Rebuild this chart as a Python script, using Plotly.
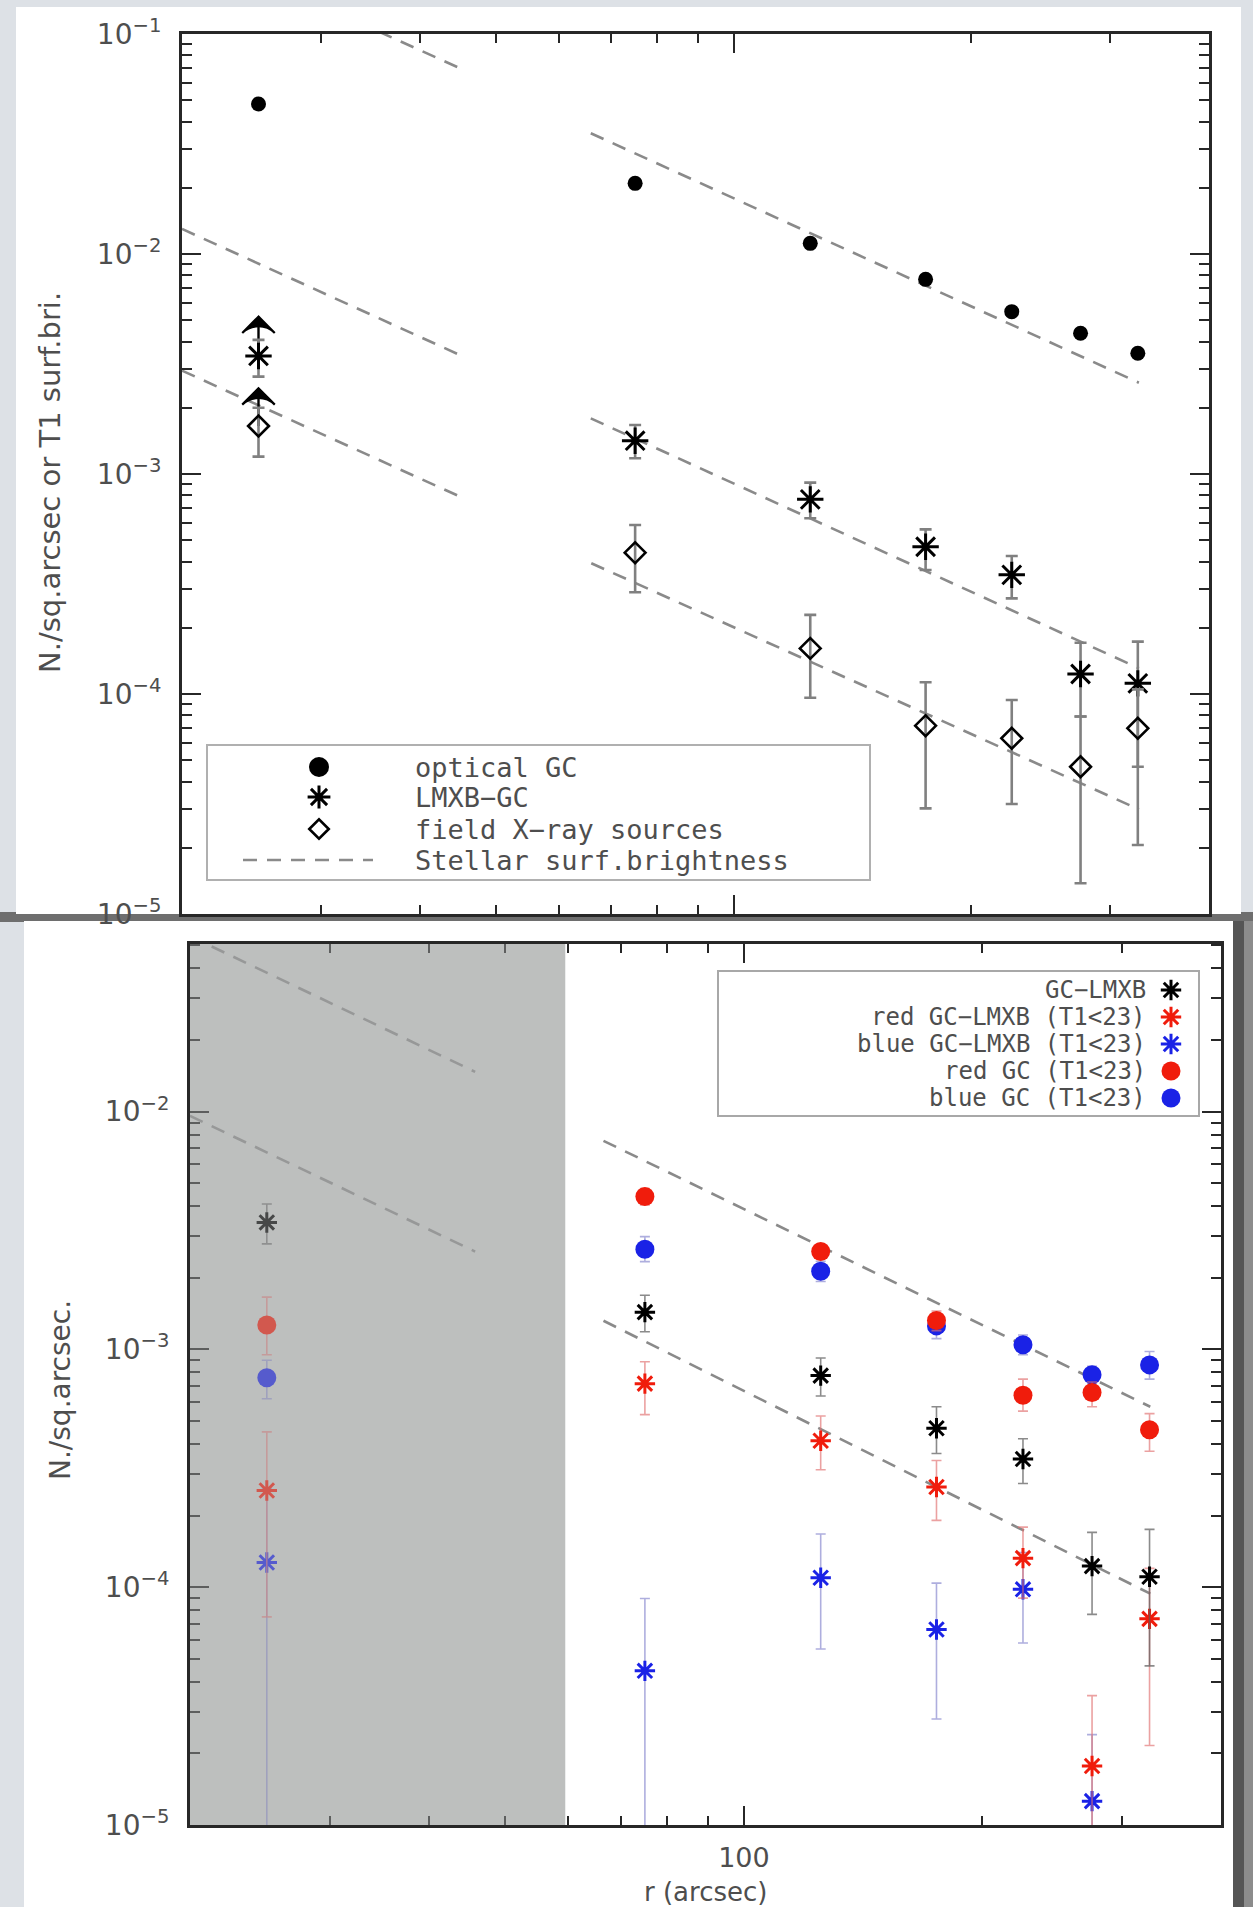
import math
import plotly.graph_objects as go

W, H = 1253, 1907

# ---------------- data ----------------
r_arcsec = [25, 75, 125, 175, 225, 275, 325]

# upper panel
optical_gc = [0.0481, 0.02095, 0.01118, 0.00767, 0.00547, 0.00436, 0.00354]
lmxb_gc = [3.44e-3, 1.417e-3, 7.67e-4, 4.67e-4, 3.48e-4, 1.233e-4, 1.118e-4]
lmxb_gc_hi = [4.07e-3, 1.67e-3, 9.14e-4, 5.60e-4, 4.24e-4, 1.71e-4, 1.73e-4]
lmxb_gc_lo = [2.77e-3, 1.18e-3, 6.29e-4, 3.66e-4, 2.72e-4, 7.9e-5, 4.67e-5]
field_xray = [1.652e-3, 4.39e-4, 1.612e-4, 7.18e-5, 6.29e-5, 4.67e-5, 6.98e-5]
field_xray_hi = [2.0e-3, 5.86e-4, 2.29e-4, 1.13e-4, 9.39e-5, 7.9e-5, 1.05e-4]
field_xray_lo = [1.20e-3, 2.9e-4, 9.62e-5, 3.02e-5, 3.16e-5, 1.38e-5, 2.06e-5]
limit_r = [25, 25]                    # lower limits in the innermost bin
limit_from = [3.44e-3, 1.652e-3]
limit_to = [5.19e-3, 2.45e-3]

sb_top_r = [[20, 45.5], [20, 45.5], [20, 45.5], [65.9, 326], [65.9, 326], [66, 326]]
sb_top_y = [[0.26, 0.0686], [0.0130, 3.41e-3], [2.95e-3, 7.75e-4],
            [0.0354, 2.6e-3], [1.79e-3, 1.31e-4], [3.93e-4, 2.99e-5]]

# lower panel
gc_lmxb = [3.42e-3, 1.435e-3, 7.76e-4, 4.66e-4, 3.46e-4, 1.227e-4, 1.107e-4]
gc_lmxb_hi = [4.09e-3, 1.69e-3, 9.2e-4, 5.74e-4, 4.21e-4, 1.7e-4, 1.75e-4]
gc_lmxb_lo = [2.78e-3, 1.186e-3, 6.37e-4, 3.65e-4, 2.73e-4, 7.69e-5, 4.67e-5]
red_gc_lmxb = [2.55e-4, 7.18e-4, 4.13e-4, 2.64e-4, 1.325e-4, 1.77e-5, 7.36e-5]
red_gc_lmxb_hi = [4.5e-4, 8.87e-4, 5.25e-4, 3.41e-4, 1.79e-4, 3.5e-5, 1.2e-4]
red_gc_lmxb_lo = [7.5e-5, 5.32e-4, 3.12e-4, 1.91e-4, 9.0e-5, 1e-7, 2.16e-5]
blue_gc_lmxb = [1.27e-4, 4.45e-5, 1.096e-4, 6.64e-5, 9.8e-5, 1.26e-5, None]
blue_gc_lmxb_hi = [2.6e-4, 8.97e-5, 1.675e-4, 1.04e-4, 1.4e-4, 2.4e-5, None]
blue_gc_lmxb_lo = [1e-7, 1e-7, 5.5e-5, 2.79e-5, 5.83e-5, 1e-7, None]
red_gc = [1.266e-3, 4.40e-3, 2.58e-3, 1.324e-3, 6.42e-4, 6.59e-4, 4.59e-4]
red_gc_hi = [1.66e-3, 4.75e-3, 2.75e-3, 1.45e-3, 7.5e-4, 7.3e-4, 5.37e-4]
red_gc_lo = [9.5e-4, 4.05e-3, 2.42e-3, 1.2e-3, 5.5e-4, 5.74e-4, 3.73e-4]
blue_gc = [7.6e-4, 2.64e-3, 2.13e-3, 1.256e-3, 1.047e-3, 7.83e-4, 8.61e-4]
blue_gc_hi = [9.0e-4, 2.98e-3, 2.35e-3, 1.4e-3, 1.15e-3, 8.49e-4, 9.8e-4]
blue_gc_lo = [6.2e-4, 2.34e-3, 1.93e-3, 1.11e-3, 9.5e-4, 7.2e-4, 7.5e-4]

sb_bot_r = [[20, 45.8], [20, 45.8], [66.5, 325.7], [66.5, 325.7]]
sb_bot_y = [[0.0547, 0.0147], [9.6e-3, 2.58e-3], [7.54e-3, 5.74e-4], [1.32e-3, 9.39e-5]]

excluded_r = [20, 59.5]   # shaded inner region (lower panel)

r_range = [20, 400]
y_top_range = [1e-5, 1e-1]
y_bot_range = [1e-5, 0.0507]
y_tick_vals = [1e-5, 1e-4, 1e-3, 1e-2, 1e-1]
y_tick_text = ['10<sup>−5</sup>', '10<sup>−4</sup>', '10<sup>−3</sup>', '10<sup>−2</sup>', '10<sup>−1</sup>']
x_tick_vals = [100]
x_tick_text = ['100']

top_legend = ['optical GC', 'LMXB−GC', 'field X−ray sources', 'Stellar surf.brightness']
bot_legend = ['GC−LMXB', 'red GC−LMXB (T1&lt;23)', 'blue GC−LMXB (T1&lt;23)',
              'red GC (T1&lt;23)', 'blue GC (T1&lt;23)']

# ---------------- styling ----------------
AX = '#272727'
TXT = '#4e4e4e'
DASH = '#8a8a8a'
RED = '#f01c0c'
BLUE = '#1a22e6'
FONT = 'DejaVu Sans'
MONO = 'DejaVu Sans Mono'


def errs(v, hi, lo):
    up = [None if a is None else h - a for a, h in zip(v, hi)]
    dn = [None if a is None else a - l for a, l in zip(v, lo)]
    return up, dn


def px(x):
    return x / W


def py(y):
    return 1 - y / H


fig = go.Figure()

# stellar surface brightness (dashed)
for rr, yy in zip(sb_top_r, sb_top_y):
    fig.add_trace(go.Scatter(x=rr, y=yy, mode='lines', xaxis='x', yaxis='y', showlegend=False,
                             line=dict(color=DASH, width=2.6, dash='14px,10px')))
for rr, yy in zip(sb_bot_r, sb_bot_y):
    fig.add_trace(go.Scatter(x=rr, y=yy, mode='lines', xaxis='x2', yaxis='y2', showlegend=False,
                             line=dict(color=DASH, width=2.6, dash='14px,10px')))

# lower-limit arrows (shaft + open chevron head)
for rr, y0, y1 in zip(limit_r, limit_from, limit_to):
    fig.add_trace(go.Scatter(x=[rr, rr], y=[y0, y1], mode='lines', xaxis='x', yaxis='y', showlegend=False,
                             line=dict(color='black', width=2.4)))
fig.add_trace(go.Scatter(x=limit_r, y=limit_to, mode='markers', xaxis='x', yaxis='y', showlegend=False,
                         marker=dict(symbol='arrow-wide', size=23, angle=0, color='black',
                                     line=dict(width=2.2, color='black'))))

# upper panel points
up, dn = errs(lmxb_gc, lmxb_gc_hi, lmxb_gc_lo)
fig.add_trace(go.Scatter(x=r_arcsec, y=lmxb_gc, mode='markers', xaxis='x', yaxis='y', showlegend=False,
                         error_y=dict(type='data', symmetric=False, array=up, arrayminus=dn,
                                      color='#808080', thickness=2.6, width=6),
                         marker=dict(symbol='asterisk-open', size=22, color='black', line=dict(width=3, color='black'))))
up, dn = errs(field_xray, field_xray_hi, field_xray_lo)
fig.add_trace(go.Scatter(x=r_arcsec, y=field_xray, mode='markers', xaxis='x', yaxis='y', showlegend=False,
                         error_y=dict(type='data', symmetric=False, array=up, arrayminus=dn,
                                      color='#808080', thickness=2.6, width=6),
                         marker=dict(symbol='diamond-open', size=16, color='black', line=dict(width=2.6, color='black'))))
fig.add_trace(go.Scatter(x=r_arcsec, y=optical_gc, mode='markers', xaxis='x', yaxis='y', showlegend=False,
                         marker=dict(symbol='circle', size=15, color='black')))


# lower panel points
def lower_series(v, hi, lo, symbol, color, ecolor, size):
    u, d = errs(v, hi, lo)
    line = dict(width=3, color=color) if 'asterisk' in symbol else dict(width=0)
    fig.add_trace(go.Scatter(x=r_arcsec, y=v, mode='markers', xaxis='x2', yaxis='y2', showlegend=False,
                             error_y=dict(type='data', symmetric=False, array=u, arrayminus=d,
                                          color=ecolor, thickness=1.6, width=5),
                             marker=dict(symbol=symbol, size=size, color=color, line=line)))


lower_series(blue_gc_lmxb, blue_gc_lmxb_hi, blue_gc_lmxb_lo, 'asterisk-open', BLUE, 'rgba(120,120,200,0.6)', 17)
lower_series(red_gc_lmxb, red_gc_lmxb_hi, red_gc_lmxb_lo, 'asterisk-open', RED, 'rgba(225,110,110,0.65)', 17)
lower_series(gc_lmxb, gc_lmxb_hi, gc_lmxb_lo, 'asterisk-open', 'black', 'rgba(90,90,90,0.7)', 17)
lower_series(blue_gc, blue_gc_hi, blue_gc_lo, 'circle', BLUE, 'rgba(120,120,200,0.6)', 19)
lower_series(red_gc, red_gc_hi, red_gc_lo, 'circle', RED, 'rgba(225,110,110,0.65)', 19)

# ---------------- legends (helper pixel axes) ----------------
TL_BOX = (207, 745, 870, 880)
TL_ROWS = [767, 797, 829, 860]
TL_SYM_X, TL_TXT_X = 319, 413
BL_BOX = (718, 971, 1199, 1116)
BL_ROWS = [990, 1017, 1044, 1071, 1098]
BL_SYM_X, BL_TXT_X = 1171, 1148

fig.add_trace(go.Scatter(x=[TL_SYM_X], y=[TL_ROWS[0]], mode='markers', xaxis='x3', yaxis='y3', showlegend=False,
                         marker=dict(symbol='circle', size=20, color='black')))
fig.add_trace(go.Scatter(x=[TL_SYM_X], y=[TL_ROWS[1]], mode='markers', xaxis='x3', yaxis='y3', showlegend=False,
                         marker=dict(symbol='asterisk-open', size=19, color='black', line=dict(width=3, color='black'))))
fig.add_trace(go.Scatter(x=[TL_SYM_X], y=[TL_ROWS[2]], mode='markers', xaxis='x3', yaxis='y3', showlegend=False,
                         marker=dict(symbol='diamond-open', size=15, color='black', line=dict(width=2.6, color='black'))))
fig.add_trace(go.Scatter(x=[TL_SYM_X - 76, TL_SYM_X + 54], y=[TL_ROWS[3], TL_ROWS[3]], mode='lines',
                         xaxis='x3', yaxis='y3', showlegend=False,
                         line=dict(color=DASH, width=2.6, dash='14px,10px')))
bl_styles = [('asterisk-open', 'black'), ('asterisk-open', RED), ('asterisk-open', BLUE),
             ('circle', RED), ('circle', BLUE)]
for yrow, (sym, col) in zip(BL_ROWS, bl_styles):
    fig.add_trace(go.Scatter(x=[BL_SYM_X], y=[yrow], mode='markers', xaxis='x3', yaxis='y3', showlegend=False,
                             marker=dict(symbol=sym, size=17 if 'asterisk' in sym else 19, color=col,
                                         line=dict(width=3, color=col) if 'asterisk' in sym else dict(width=0))))

annotations = []
for yrow, t in zip(TL_ROWS, top_legend):
    annotations.append(dict(x=TL_TXT_X, y=yrow, xref='x3', yref='y3', text=t, showarrow=False,
                            xanchor='left', yanchor='middle', font=dict(family=MONO, size=27, color=TXT)))
for yrow, t in zip(BL_ROWS, bot_legend):
    annotations.append(dict(x=BL_TXT_X, y=yrow, xref='x3', yref='y3', text=t, showarrow=False,
                            xanchor='right', yanchor='middle', font=dict(family=MONO, size=24, color=TXT)))

# axis titles
annotations.append(dict(x=50, y=483, xref='x3', yref='y3', text='N./sq.arcsec or T1 surf.bri.', showarrow=False,
                        textangle=-90, font=dict(family=FONT, size=29, color=TXT)))
annotations.append(dict(x=60, y=1390, xref='x3', yref='y3', text='N./sq.arcsec.', showarrow=False,
                        textangle=-90, font=dict(family=FONT, size=28, color=TXT)))
annotations.append(dict(x=705, y=1892, xref='x3', yref='y3', text='r (arcsec)', showarrow=False,
                        yanchor='middle', font=dict(family=FONT, size=26, color=TXT)))

# ---------------- shapes: slide cards, shading, legend boxes ----------------
shapes = [
    dict(type='rect', xref='paper', yref='paper', x0=px(0), x1=px(W), y0=py(922), y1=py(912),
         fillcolor='#6e6e6e', line=dict(width=0), layer='below'),
    dict(type='rect', xref='paper', yref='paper', x0=px(16), x1=px(1241), y0=py(914), y1=py(7),
         fillcolor='white', line=dict(width=0), layer='below'),
    dict(type='rect', xref='paper', yref='paper', x0=px(1233), x1=px(1244), y0=py(H), y1=py(921),
         fillcolor='#555555', line=dict(width=0), layer='below'),
    dict(type='rect', xref='paper', yref='paper', x0=px(1244), x1=px(W), y0=py(H), y1=py(921),
         fillcolor='#8c8c8c', line=dict(width=0), layer='below'),
    dict(type='rect', xref='paper', yref='paper', x0=px(24), x1=px(1233), y0=py(H), y1=py(921),
         fillcolor='white', line=dict(width=0), layer='below'),
    dict(type='rect', xref='paper', yref='paper', x0=px(TL_BOX[0]), x1=px(TL_BOX[2]), y0=py(TL_BOX[3]),
         y1=py(TL_BOX[1]), fillcolor='white', line=dict(width=2, color='#b0b0b0'), layer='below'),
    dict(type='rect', xref='paper', yref='paper', x0=px(BL_BOX[0]), x1=px(BL_BOX[2]), y0=py(BL_BOX[3]),
         y1=py(BL_BOX[1]), fillcolor='white', line=dict(width=2, color='#a8a8a8'), layer='below'),
    dict(type='rect', xref='x2', yref='y2 domain', x0=excluded_r[0], x1=excluded_r[1], y0=0, y1=1,
         fillcolor='#cbcdcc', line=dict(width=0), layer='below'),
    dict(type='rect', xref='x2', yref='y2 domain', x0=excluded_r[0], x1=excluded_r[1], y0=0, y1=1,
         fillcolor='rgba(170,172,171,0.42)', line=dict(width=0), layer='above'),
]


def xaxis(domain, anchor, labels):
    return dict(domain=domain, anchor=anchor, type='log', automargin=False,
                range=[math.log10(r_range[0]), math.log10(r_range[1])],
                showline=True, linecolor=AX, linewidth=3, mirror='ticks',
                ticks='inside', ticklen=19, tickwidth=2.4, tickcolor=AX,
                tickvals=x_tick_vals, ticktext=x_tick_text, showticklabels=labels,
                ticklabelstandoff=7,
                tickfont=dict(family=FONT, size=27, color=TXT),
                minor=dict(ticks='inside', ticklen=9, tickwidth=2.2, tickcolor=AX,
                           tickvals=[30, 40, 50, 60, 70, 80, 90, 200, 300], showgrid=False),
                showgrid=False, zeroline=False, fixedrange=True)


def yaxis(domain, anchor, rng):
    return dict(domain=domain, anchor=anchor, type='log', automargin=False,
                range=[math.log10(rng[0]), math.log10(rng[1])],
                showline=True, linecolor=AX, linewidth=3, mirror='ticks',
                ticks='inside', ticklen=19, tickwidth=2.4, tickcolor=AX,
                tickvals=y_tick_vals, ticktext=y_tick_text, ticklabelstandoff=12,
                tickfont=dict(family=FONT, size=28, color=TXT),
                minor=dict(ticks='inside', ticklen=10, tickwidth=2.2, tickcolor=AX,
                           tickvals=[m * 10.0 ** e for e in range(-5, -1) for m in range(2, 10)],
                           showgrid=False),
                showgrid=False, zeroline=False, fixedrange=True)


fig.update_layout(
    width=W, height=H, autosize=False,
    margin=dict(l=0, r=0, t=0, b=0, pad=0, autoexpand=False),
    paper_bgcolor='#dde1e6', plot_bgcolor='rgba(0,0,0,0)',
    showlegend=False,
    xaxis=xaxis([px(182), px(1209)], 'y', False),
    yaxis=yaxis([py(914), py(34)], 'x', y_top_range),
    xaxis2=xaxis([px(190), px(1221)], 'y2', True),
    yaxis2=yaxis([py(1825), py(944)], 'x2', y_bot_range),
    xaxis3=dict(domain=[0, 1], range=[0, W], visible=False, fixedrange=True, anchor='y3', automargin=False),
    yaxis3=dict(domain=[0, 1], range=[H, 0], visible=False, fixedrange=True, anchor='x3', automargin=False),
    shapes=shapes,
    annotations=annotations,
)

fig.write_html('out.html', config={'displayModeBar': False})
